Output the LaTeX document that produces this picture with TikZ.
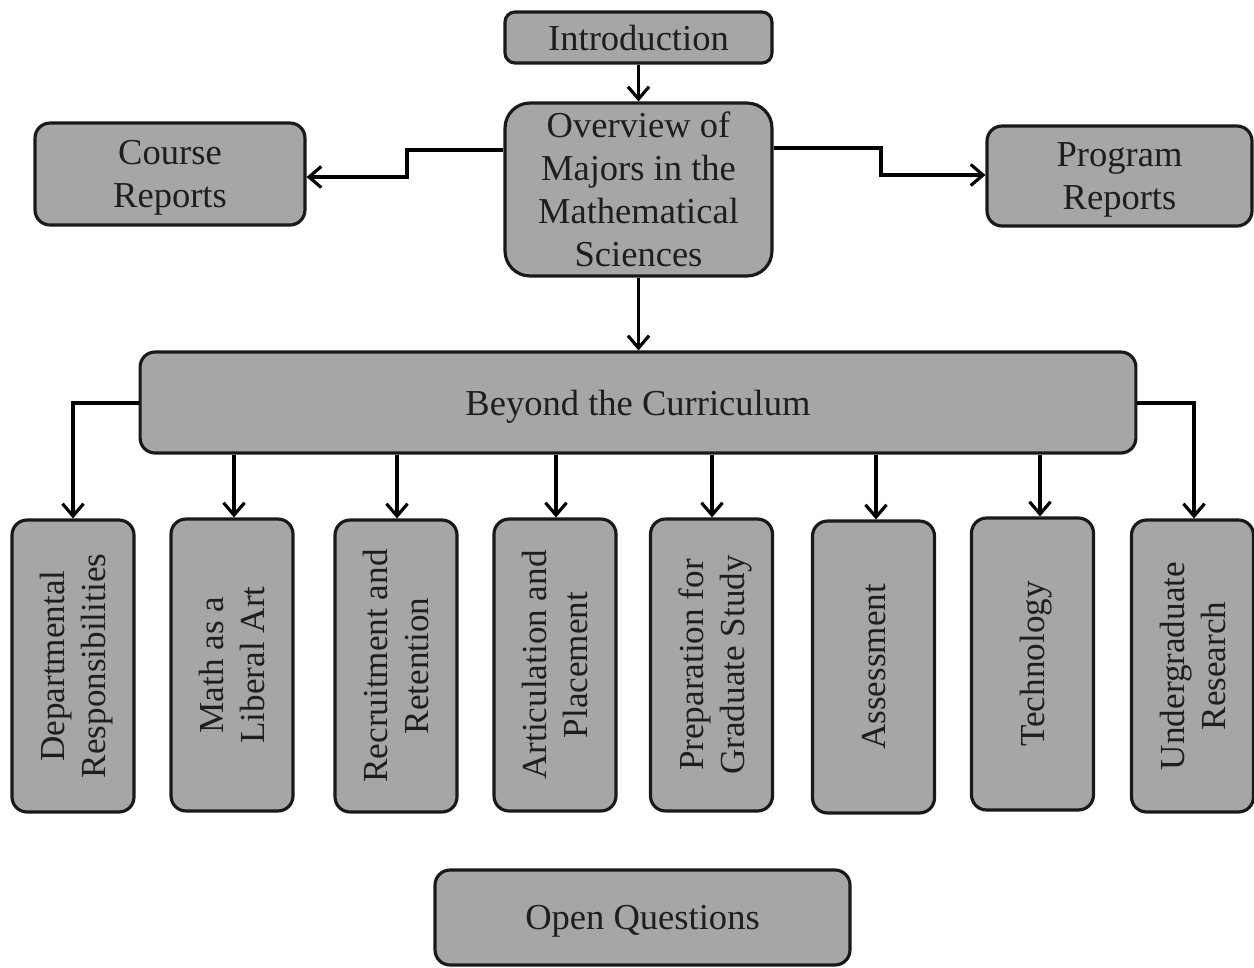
\documentclass[tikz,border=0pt]{standalone}
\usepackage{fontspec}
\setmainfont{Liberation Serif}
\usetikzlibrary{arrows.meta}
\definecolor{boxgray}{HTML}{A6A6A6}
\definecolor{txtgray}{HTML}{1E1E1E}
\begin{document}
\begin{tikzpicture}[x=0.02cm,y=-0.02cm,
  box/.style={draw=black!90, line width=1.8pt, fill=boxgray, rounded corners=0.3cm,
    inner sep=0pt, align=center, text=txtgray, text depth=0pt,
    font=\fontsize{20.8}{24.5}\selectfont},
  vbox/.style={box, rotate=90, minimum width=5.84cm, minimum height=2.44cm,
    font=\fontsize{20}{23.5}\selectfont},
  arr/.style={line width=1.8pt, -{Straight Barb[length=7pt,width=12pt,line width=1.8pt]}}]
\useasboundingbox (0,0) rectangle (1254,967);
% top
\node[box, minimum width=5.34cm, minimum height=1.02cm, rounded corners=0.2cm] (intro) at (638.5,37.5) {Introduction};
\node[box, minimum width=5.34cm, minimum height=3.46cm, rounded corners=0.5cm] (ov) at (638.5,189.5) {Overview of\\Majors in the\\Mathematical\\Sciences};
\node[box, minimum width=5.40cm, minimum height=2.04cm] (cr) at (170,174) {Course\\Reports};
\node[box, minimum width=5.30cm, minimum height=2.0cm] (pr) at (1119.5,176) {Program\\Reports};
\node[box, minimum width=19.92cm, minimum height=2.02cm] (bc) at (638,402.5) {Beyond the Curriculum};
% bottom row
\node[vbox] (b1) at (73,666) {Departmental\\Responsibilities};
\node[vbox] (b2) at (232,665) {Math as a\\Liberal Art};
\node[vbox] (b3) at (396,666) {Recruitment and\\Retention};
\node[vbox] (b4) at (555,665) {Articulation and\\Placement};
\node[vbox] (b5) at (711.5,665) {Preparation for\\Graduate Study};
\node[vbox] (b6) at (873.5,667) {Assessment};
\node[vbox] (b7) at (1032.5,664) {Technology};
\node[vbox] (b8) at (1192.5,666) {Undergraduate\\Research};
\node[box, minimum width=8.30cm, minimum height=1.90cm] (oq) at (642.5,917.5) {Open Questions};
% connectors
\draw[arr] (intro.south) -- (ov.north);
\draw[arr] (ov.west |- 0,150) -| (407,177) -- (cr.east |- 0,177);
\draw[arr] (ov.east |- 0,148) -| (881,175) -- (pr.west |- 0,175);
\draw[arr] (ov.south) -- (bc.north -| ov.south);
\draw[arr] (bc.west |- 0,403) -| (b1.east);
\draw[arr] (bc.east |- 0,403) -| (1194,0 |- b8.east);
\draw[arr] (bc.south -| 234,0) -- (b2.east -| 234,0);
\draw[arr] (bc.south -| 397,0) -- (b3.east -| 397,0);
\draw[arr] (bc.south -| 556,0) -- (b4.east -| 556,0);
\draw[arr] (bc.south -| 712,0) -- (b5.east -| 712,0);
\draw[arr] (bc.south -| 876,0) -- (b6.east -| 876,0);
\draw[arr] (bc.south -| 1040,0) -- (b7.east -| 1040,0);
\end{tikzpicture}
\end{document}
